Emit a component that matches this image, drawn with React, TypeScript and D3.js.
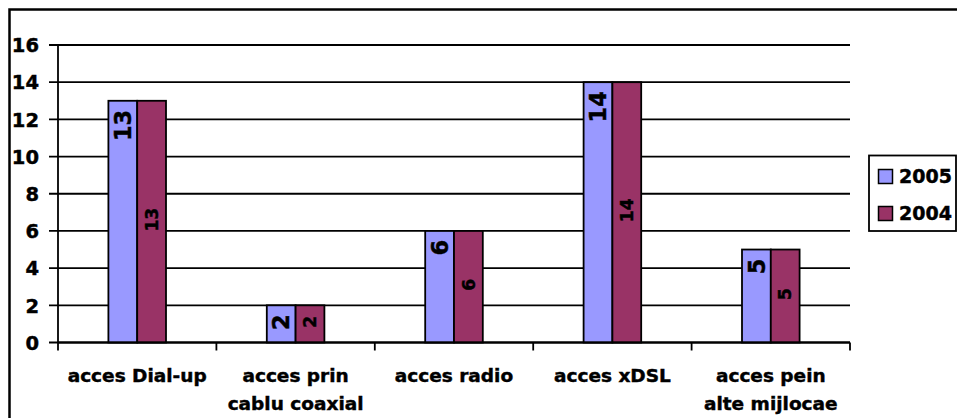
import React from "react";
import * as d3 from "d3";

const categories: string[][] = [
  ["acces Dial-up"],
  ["acces prin", "cablu coaxial"],
  ["acces radio"],
  ["acces xDSL"],
  ["acces pein", "alte mijlocae"],
];
const categoryKeys = ["dialup", "cablu", "radio", "xdsl", "alte"];
const series = ["2005", "2004"];
const values2005 = [13, 2, 6, 14, 5];
const values2004 = [13, 2, 6, 14, 5];
const yTicks = [0, 2, 4, 6, 8, 10, 12, 14, 16];
const colors = ["#9999FF", "#993366"];

const W = 957;
const H = 418;
const FONT = "'DejaVu Sans', Verdana, sans-serif";
const TS = { stroke: "#000", strokeWidth: 0.45 };

export default function App() {
  const left = 58;
  const right = 850;
  const top = 45;
  const bottom = 342.5;

  const x = d3.scaleBand<string>().domain(categoryKeys).range([left, right]).paddingInner(0).paddingOuter(0);
  const bw = x.bandwidth();
  const groupW = bw / 2.75;
  const x1 = d3.scaleBand<string>().domain(series).range([0, groupW]);
  const y = d3.scaleLinear().domain([0, 16]).range([bottom, top]);

  const seriesValues = [values2005, values2004];
  const boundaries = categoryKeys.map((k) => x(k) as number).concat([right]);

  return (
    <svg width={W} height={H} style={{ position: "absolute", left: 0, top: 0, background: "#fff" }} fontFamily={FONT}>
      <rect x={0} y={0} width={W} height={H} fill="#fff" />
      <rect x={9.5} y={9.5} width={W + 20} height={H + 20} fill="none" stroke="#000" strokeWidth={2.5} />
      {yTicks.map((t) => (
        <g key={t}>
          <line x1={49} x2={right} y1={y(t)} y2={y(t)} stroke="#000" strokeWidth={1.8} />
          <text x={39} y={y(t)} dy="0.37em" textAnchor="end" fontSize={19.5} fontWeight="bold" fill="#000" {...TS}>
            {t}
          </text>
        </g>
      ))}
      <line x1={left} x2={left} y1={top} y2={bottom} stroke="#000" strokeWidth={1.8} />
      {boundaries.map((b, i) => (
        <line key={i} x1={b} x2={b} y1={bottom} y2={bottom + 8} stroke="#000" strokeWidth={1.8} />
      ))}
      {categoryKeys.map((k, ci) => {
        const gx = (x(k) as number) + (bw - groupW) / 2;
        return (
          <g key={k}>
            {series.map((s, si) => {
              const v = seriesValues[si][ci];
              const bx = gx + (x1(s) as number);
              const bwid = x1.bandwidth();
              return (
                <rect
                  key={s}
                  x={bx}
                  y={y(v)}
                  width={bwid}
                  height={y(0) - y(v)}
                  fill={colors[si]}
                  stroke="#000"
                  strokeWidth={1.8}
                />
              );
            })}
            {series.map((s, si) => {
              const v = seriesValues[si][ci];
              const bx = gx + (x1(s) as number);
              const cx = bx + x1.bandwidth() / 2;
              if (si === 0) {
                const fs = 22.5;
                const ty = y(v) + 9;
                const tx = cx + fs * 0.36;
                return (
                  <text
                    key={"l" + s}
                    transform={`translate(${tx},${ty}) rotate(-90)`}
                    textAnchor="end"
                    fontSize={fs}
                    fontWeight="bold"
                    fill="#000"
                    {...TS}
                  >
                    {v}
                  </text>
                );
              }
              const fs = 17;
              const ty = (y(v) + y(0)) / 2 - 2;
              const tx = cx + fs * 0.36;
              return (
                <text
                  key={"l" + s}
                  transform={`translate(${tx},${ty}) rotate(-90)`}
                  textAnchor="middle"
                  fontSize={fs}
                  fontWeight="bold"
                  fill="#000"
                  {...TS}
                >
                  {v}
                </text>
              );
            })}
          </g>
        );
      })}
      <line x1={left} x2={right} y1={bottom} y2={bottom} stroke="#000" strokeWidth={1.8} />
      {categoryKeys.map((k, ci) => (
        <text key={k} x={(x(k) as number) + bw / 2} textAnchor="middle" fontSize={18.5} fontWeight="bold" fill="#000" {...TS}>
          {categories[ci].map((line, li) => (
            <tspan key={li} x={(x(k) as number) + bw / 2} y={382 + li * 28}>
              {line}
            </tspan>
          ))}
        </text>
      ))}
      <rect x={869} y={155.5} width={87} height={75.5} fill="#fff" stroke="#000" strokeWidth={1.8} />
      {series.map((s, i) => (
        <g key={s}>
          <rect x={878.5} y={169.5 + i * 37} width={14} height={14} fill={colors[i]} stroke="#000" strokeWidth={1.5} />
          <text x={899} y={183 + i * 37} fontSize={19} fontWeight="bold" fill="#000" {...TS}>
            {s}
          </text>
        </g>
      ))}
    </svg>
  );
}
